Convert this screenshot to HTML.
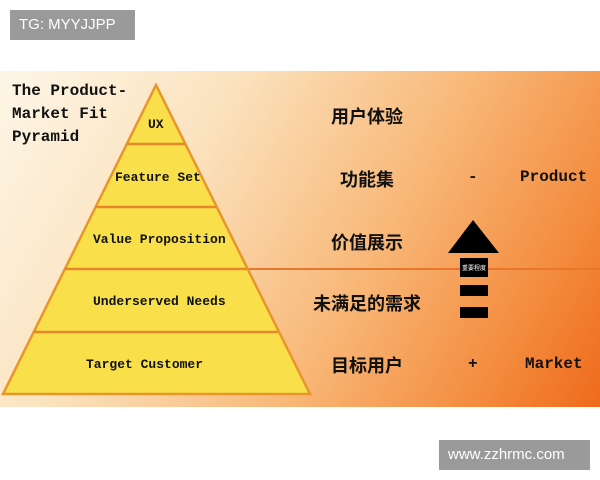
<!DOCTYPE html>
<html><head><style>
body{margin:0;width:600px;height:480px;background:#fff;position:relative;overflow:hidden;font-family:"Liberation Mono","Noto Sans CJK SC",monospace}
.bg{position:absolute;left:0;top:71px;width:600px;height:336px;background:linear-gradient(120deg,#fdf6e6 0%,#fbe3bf 30%,#f8b878 60%,#f38a3c 85%,#ef6a1c 100%)}
.t{position:absolute;font-weight:bold;color:#111;white-space:nowrap}
.wm{position:absolute;background:#9a9a9a;color:#fff;font-family:"Liberation Sans",sans-serif;font-size:15px;line-height:30px;padding:0 9px}
</style></head><body>
<div class="bg"></div>
<svg style="position:absolute;left:0;top:0" width="600" height="480">
<line x1="230" y1="269" x2="600" y2="269" stroke="#e8762c" stroke-width="2"/>
<polygon points="156,85 310,394 3,394" fill="#f9e04b" stroke="#e8962c" stroke-width="2.5"/>
<g stroke="#e8862c" stroke-width="2.5">
<line x1="127" y1="144" x2="185" y2="144"/>
<line x1="96" y1="207" x2="216" y2="207"/>
<line x1="65" y1="269" x2="247" y2="269"/>
<line x1="34" y1="332" x2="278" y2="332"/>
</g>
<polygon points="473,220 499,253 448,253" fill="#000"/>
<rect x="460" y="258" width="28" height="19" fill="#000"/>
<rect x="460" y="285" width="28" height="11" fill="#000"/>
<rect x="460" y="307" width="28" height="11" fill="#000"/>
<text x="474" y="270" font-size="6" fill="#fff" text-anchor="middle" font-family="Noto Sans CJK SC">重要程度</text>
</svg>
<div class="t" style="left:12px;top:80px;font-size:16px;line-height:23px">The Product-<br>Market Fit<br>Pyramid</div>
<div class="t" style="left:148px;top:117px;font-size:13px">UX</div>
<div class="t" style="left:115px;top:170px;font-size:13px">Feature Set</div>
<div class="t" style="left:93px;top:232px;font-size:13px">Value Proposition</div>
<div class="t" style="left:93px;top:294px;font-size:13px">Underserved Needs</div>
<div class="t" style="left:86px;top:357px;font-size:13px">Target Customer</div>
<div class="t" style="left:331px;top:103px;font-size:18px">用户体验</div>
<div class="t" style="left:340px;top:166px;font-size:18px">功能集</div>
<div class="t" style="left:331px;top:229px;font-size:18px">价值展示</div>
<div class="t" style="left:313px;top:290px;font-size:18px">未满足的需求</div>
<div class="t" style="left:331px;top:352px;font-size:18px">目标用户</div>
<div class="t" style="left:468px;top:168px;font-size:16px">-</div>
<div class="t" style="left:468px;top:355px;font-size:16px">+</div>
<div class="t" style="left:520px;top:168px;font-size:16px">Product</div>
<div class="t" style="left:525px;top:355px;font-size:16px">Market</div>
<div class="wm" style="left:10px;top:10px;width:107px">TG: MYYJJPP</div>
<div class="wm" style="left:439px;top:440px;width:133px">www.zzhrmc.com</div>
</body></html>
